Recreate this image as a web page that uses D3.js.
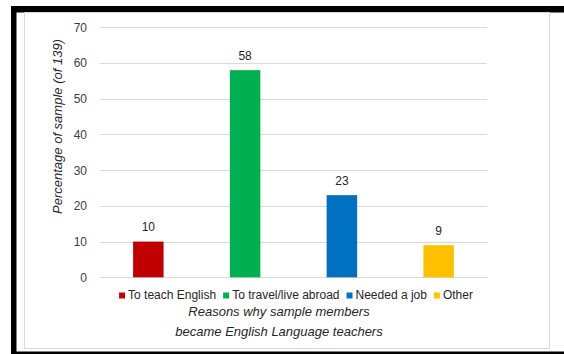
<!DOCTYPE html>
<html>
<head>
<meta charset="utf-8">
<script src="https://cdn.jsdelivr.net/npm/d3@7"></script>
<style>
  body { margin: 0; background: #fff; }
  text { font-family: "Liberation Sans", "DejaVu Sans", sans-serif; }
</style>
</head>
<body>
<svg id="chart" width="564" height="354"></svg>
<script>
const categories = ['To teach English', 'To travel/live abroad', 'Needed a job', 'Other']
const values = [10, 58, 23, 9]
const colors = ['#C00000', '#00B050', '#0070C0', '#FFC000']
const yTicks = [0, 10, 20, 30, 40, 50, 60, 70]

const svg = d3.select('#chart')

// black frame (top, left, bottom) and the light chart-area border
const frame = svg.append('g').attr('fill', '#000')
frame.append('rect').attr('x', 11).attr('y', 6).attr('width', 553).attr('height', 6.5)
frame.append('rect').attr('x', 11).attr('y', 6).attr('width', 5.5).attr('height', 348)
frame.append('rect').attr('x', 11).attr('y', 351.5).attr('width', 553).attr('height', 3)

svg.append('rect')
  .attr('x', 24.5).attr('y', 12.5).attr('width', 525).attr('height', 336)
  .attr('fill', 'none').attr('stroke', '#d9d9d9').attr('stroke-width', 1)

const margin = { left: 100, right: 487, top: 27.3, bottom: 277.3 }

const x = d3.scaleBand()
  .domain(categories)
  .range([margin.left, margin.right])
  .paddingInner(0.685)
  .paddingOuter(0.342)

const y = d3.scaleLinear()
  .domain([0, 70])
  .range([margin.bottom, margin.top])

// gridlines
svg.append('g')
  .selectAll('line')
  .data(yTicks)
  .enter()
  .append('line')
  .attr('x1', margin.left)
  .attr('x2', margin.right)
  .attr('y1', d => Math.round(y(d)) + 0.5)
  .attr('y2', d => Math.round(y(d)) + 0.5)
  .attr('stroke', '#d9d9d9')

const yAxis = d3.axisLeft(y).tickValues(yTicks).tickSize(0).tickPadding(13)
svg.append('g')
  .attr('transform', `translate(${margin.left}, 0)`)
  .call(yAxis)
  .call(g => g.select('.domain').remove())
  .call(g => g.selectAll('text')
    .attr('fill', '#404040')
    .style('font-family', '"Liberation Sans", sans-serif')
    .style('font-size', '12px'))

// bars
svg.append('g')
  .selectAll('rect')
  .data(values)
  .enter()
  .append('rect')
  .attr('x', (d, i) => x(categories[i]))
  .attr('y', d => y(d))
  .attr('width', x.bandwidth())
  .attr('height', d => y(0) - y(d))
  .attr('fill', (d, i) => colors[i])

// value labels
svg.append('g')
  .selectAll('text')
  .data(values)
  .enter()
  .append('text')
  .attr('x', (d, i) => x(categories[i]) + x.bandwidth() / 2)
  .attr('y', d => y(d) - 10.5)
  .attr('text-anchor', 'middle')
  .attr('fill', '#262626')
  .style('font-size', '12px')
  .text(d => d)

// legend, laid out left to right then centred
const legend = svg.append('g')
let cursor = 0
categories.forEach((c, i) => {
  legend.append('rect')
    .attr('x', cursor).attr('y', 292.5)
    .attr('width', 6).attr('height', 6)
    .attr('fill', colors[i])
  const t = legend.append('text')
    .attr('x', cursor + 9).attr('y', 299)
    .attr('fill', '#262626')
    .style('font-size', '12px')
    .text(c)
  cursor += 9 + t.node().getComputedTextLength() + 7
})
const legendWidth = cursor - 7
legend.attr('transform', `translate(${296 - legendWidth / 2}, 0)`)

// x title
const xTitle = svg.append('g')
  .style('font-style', 'italic')
  .style('font-size', '13px')
  .attr('fill', '#262626')
  .attr('text-anchor', 'middle')
xTitle.append('text')
  .attr('x', 279).attr('y', 316)
  .text('Reasons why sample members')
xTitle.append('text')
  .attr('x', 279).attr('y', 335.5)
  .text('became English Language teachers')

// y title
svg.append('text')
  .attr('transform', `translate(61.5, 126.5) rotate(-90)`)
  .attr('text-anchor', 'middle')
  .style('font-style', 'italic')
  .style('font-size', '13px')
  .attr('fill', '#262626')
  .text('Percentage of sample (of 139)')
</script>
</body>
</html>
